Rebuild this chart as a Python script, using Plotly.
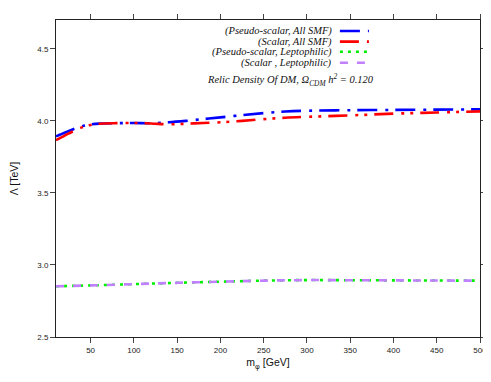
import plotly.graph_objects as go

# ---- data ----
mass_smf = [10, 15, 20, 25, 30, 40, 50, 60, 80, 100, 120, 140, 160, 180, 200, 225, 250, 275, 300, 350, 400, 450, 500]
pseudo_all = [3.892, 3.905, 3.918, 3.930, 3.942, 3.962, 3.975, 3.981, 3.984, 3.985, 3.984, 3.990, 4.000, 4.012, 4.024, 4.040, 4.054, 4.065, 4.070, 4.074, 4.076, 4.078, 4.080]
scalar_all = [3.866, 3.882, 3.898, 3.913, 3.928, 3.955, 3.972, 3.980, 3.984, 3.985, 3.982, 3.976, 3.980, 3.985, 3.990, 4.000, 4.012, 4.022, 4.028, 4.038, 4.050, 4.058, 4.066]

mass_lep = [10, 50, 100, 150, 200, 250, 300, 350, 400, 450, 500]
pseudo_lep = [2.852, 2.858, 2.867, 2.876, 2.884, 2.891, 2.895, 2.894, 2.893, 2.892, 2.891]
scalar_lep = [2.852, 2.858, 2.867, 2.876, 2.884, 2.891, 2.895, 2.894, 2.893, 2.892, 2.891]

series_names = ["(Pseudo-scalar, All SMF)", "(Scalar, All SMF)",
                "(Pseudo-scalar, Leptophilic)", "(Scalar , Leptophilic)"]
colors = ["#0000ff", "#ff0000", "#00ee00", "#c080ff"]
dashes = ["20px,8px,3px,7px", "19px,8px,3px,6px,3px,7px", "3px,5px", "8px,9px"]
xs = [mass_smf, mass_smf, mass_lep, mass_lep]
ys = [pseudo_all, scalar_all, pseudo_lep, scalar_lep]

fig = go.Figure()
for x, y, c, d, n in zip(xs, ys, colors, dashes, series_names):
    fig.add_trace(go.Scatter(x=x, y=y, mode="lines", name=n,
                             line=dict(color=c, width=2.6, dash=d, shape="spline"),
                             showlegend=False))

# ---- custom legend (text right, sample line right of text) ----
W0, W1, H0, H1 = 48.3, 472.0, 11.7, 329.0
def px2x(p): return (p - W0) / (W1 - W0)
def px2y(p): return (H1 - p) / (H1 - H0)

legend_font = dict(family="Liberation Serif", size=10.5, color="#111", style="italic")
row_y = [22.7, 33.3, 43.5, 54.5]
annotations = []
shapes = []
for i, (n, c, d) in enumerate(zip(series_names, colors, dashes)):
    annotations.append(dict(xref="paper", yref="paper", x=px2x(326), y=px2y(row_y[i]),
                            xanchor="right", yanchor="middle", showarrow=False,
                            text=n, font=legend_font))
    shapes.append(dict(type="line", xref="paper", yref="paper",
                       x0=px2x(332), x1=px2x(361), y0=px2y(row_y[i]), y1=px2y(row_y[i]),
                       line=dict(color=c, width=2.6, dash=d)))

annotations.append(dict(xref="paper", yref="paper", x=px2x(368), y=px2y(71.5),
                        xanchor="right", yanchor="middle", showarrow=False,
                        text="Relic Density Of DM, Ω<sub>CDM</sub> h<sup>2</sup> = 0.120",
                        font=legend_font))

axis_common = dict(showline=True, linecolor="#222", linewidth=1, mirror="ticks",
                   ticks="outside", ticklen=5, tickcolor="#444", showgrid=False,
                   zeroline=False, automargin=False,
                   tickfont=dict(family="Liberation Sans", size=8, color="#222"))

fig.update_layout(
    width=491, height=382,
    margin=dict(l=48, r=19, t=12, b=53),
    paper_bgcolor="white", plot_bgcolor="white",
    annotations=annotations, shapes=shapes,
    xaxis=dict(range=[10, 500], tickvals=[50, 100, 150, 200, 250, 300, 350, 400, 450, 500],
               title=dict(text="m<sub>φ</sub> [GeV]", standoff=5,
                          font=dict(family="Liberation Sans", size=10.5, color="#111")),
               **axis_common),
    yaxis=dict(range=[2.5, 4.7], tickvals=[2.5, 3.0, 3.5, 4.0, 4.5],
               ticktext=["2.5", "3.0", "3.5", "4.0", "4.5"],
               title=dict(text="Λ [TeV]", standoff=16,
                          font=dict(family="Liberation Sans", size=10.5, color="#111")),
               **axis_common),
)

fig.write_html("out.html")
